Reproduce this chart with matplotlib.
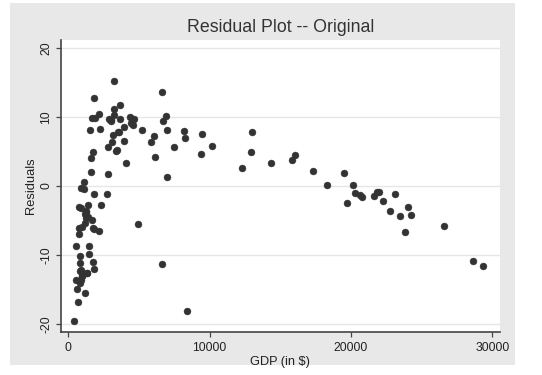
import matplotlib
matplotlib.use("Agg")
import matplotlib.pyplot as plt
from matplotlib.patches import Rectangle

plt.rcParams['font.family'] = ['Liberation Sans', 'DejaVu Sans']

# GDP (in $) and residuals
gdp = [
    424, 707, 1203, 519, 637, 848, 966, 919, 849, 849, 519, 1438, 1486, 1320, 1745, 1839,
    825, 1344, 872, 990, 2192, 755, 778, 990, 1155, 1273, 1414, 1650, 1720, 1816,
    754, 919, 1273, 1391, 2309, 2710, 1838, 872, 1108, 1108, 1626, 2851, 1720, 1603,
    2828, 3087, 3417, 3983, 4077, 1555, 2239, 1697, 1885, 2168, 1815, 3228, 2875, 3040,
    3228, 3228, 3676, 3158, 3488, 3605, 3676, 3983, 4337, 4454, 4619, 4690, 5208, 4973,
    5868, 6104, 6174, 6622, 6740, 6928, 6999, 6999, 6669, 7517, 8225, 8248, 8390, 9474,
    9403, 10204, 12278, 12914, 13008, 14352, 15836, 16025, 17297, 18334, 19489, 19725,
    20172, 20267, 20620, 20785, 21610, 21846, 21987, 22294, 22741, 23142, 23448, 24061,
    24273, 23802, 26583, 28609, 29316, 1226, 2995, 3466, 1180,
]
residuals = [
    -19.6, -16.9, -15.5, -13.6, -14.9, -14.1, -13.1, -12.2, -11.2, -10.2, -8.7, -8.7, -9.9,
    -12.6, -11.0, -12.0, -12.3, -12.6, -13.6, -13.0, -6.5, -6.9, -6.05, -5.9, -5.3, -4.7,
    -4.45, -5.0, -6.1, -6.2, -3.05, -3.2, -3.6, -2.7, -2.75, -1.1, -1.2, -0.3, -0.5, 0.6,
    2.0, 1.7, 4.9, 4.1, 5.7, 6.4, 5.1, 6.5, 3.3, 8.1, 8.3, 9.9, 9.9, 10.4, 12.8, 15.3,
    9.7, 9.5, 10.3, 11.2, 11.8, 7.4, 7.9, 7.85, 9.8, 8.5, 10.0, 9.1, 8.8, 9.7, 8.2, -5.5,
    6.4, 7.2, 4.15, 13.6, 9.4, 10.2, 8.2, 1.3, -11.3, 5.7, 8.0, 7.0, -18.1, 7.55,
    4.7, 5.85, 2.55, 5.0, 7.85, 3.4, 3.8, 4.55, 2.2, 0.1, 1.9, -2.4,
    0.2, -0.95, -1.35, -1.6, -1.4, -0.85, -0.8, -2.15, -3.6, -1.1, -4.4, -3.0,
    -4.2, -6.65, -5.8, -10.85, -11.6, -3.8, 9.6, 5.3, -4.0,
]

title = "Residual Plot -- Original"
xlabel = "GDP (in $)"
ylabel = "Residuals"
xticks = [0, 10000, 20000, 30000]
yticks = [-20, -10, 0, 10, 20]

W, H = 542, 375
fig = plt.figure(figsize=(W / 100, H / 100), dpi=100)
fig.patch.set_facecolor("white")
# light gray graph region
fig.patches.append(Rectangle((10 / W, 1 - 365 / H), 505 / W, 362 / H,
                             transform=fig.transFigure, facecolor="#e8e8e8",
                             edgecolor="none", zorder=0))

ax = fig.add_axes([60.5 / W, 1 - 332 / H, (500 - 60.5) / W, (332 - 40) / H])
ax.set_facecolor("white")
ax.set_zorder(1)

ax.plot(gdp, residuals, linestyle="none", marker="o", markersize=5.0,
        markerfacecolor="#333333", markeredgecolor="#333333", markeredgewidth=0.3,
        zorder=3)

ax.set_xlim(-544, 30544)
ax.set_ylim(-21.2, 21.2)
ax.set_xticks(xticks)
ax.set_yticks(yticks)
ax.set_xticklabels([str(v) for v in xticks])
ax.set_yticklabels([str(v) for v in yticks], rotation=90, va="center")

ax.grid(axis="y", color="#e6e6e6", linewidth=1.0, zorder=0)
ax.grid(axis="x", visible=False)
ax.set_axisbelow(True)

for s in ["top", "right"]:
    ax.spines[s].set_visible(False)
for s in ["left", "bottom"]:
    ax.spines[s].set_color("#444444")
    ax.spines[s].set_linewidth(1.2)

ax.tick_params(axis="both", direction="out", length=3.5, width=0.9, color="#444444",
               labelsize=8.8, labelcolor="#222222")
ax.tick_params(axis="x", pad=3.5)
ax.tick_params(axis="y", pad=2.5)

ax.set_title(title, fontsize=12.8, color="#333333", pad=6)
ax.set_xlabel(xlabel, fontsize=9.2, color="#222222", labelpad=1.5)
ax.set_ylabel(ylabel, fontsize=9.3, color="#222222", labelpad=2)

fig.savefig("out.png", dpi=100, facecolor=fig.get_facecolor())
